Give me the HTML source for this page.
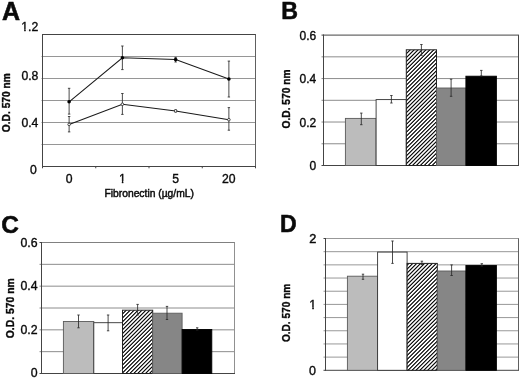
<!DOCTYPE html>
<html><head><meta charset="utf-8"><title>Figure</title>
<style>html,body{margin:0;padding:0;background:#fff;}svg{display:block;}text{font-family:'Liberation Sans', sans-serif;fill:#0a0a0a;stroke:#0a0a0a;stroke-width:0.36px;}</style>
</head><body>
<svg width="520" height="378" viewBox="0 0 520 378">
<defs><linearGradient id="hg" gradientUnits="userSpaceOnUse" x1="2.08" y1="2.08" x2="4.045" y2="4.045" spreadMethod="repeat"><stop offset="0.0" stop-color="#0c0c0c"/><stop offset="0.0417" stop-color="#0f0f0f"/><stop offset="0.0833" stop-color="#1f1f1f"/><stop offset="0.125" stop-color="#393939"/><stop offset="0.1667" stop-color="#5a5a5a"/><stop offset="0.2083" stop-color="#818181"/><stop offset="0.25" stop-color="#aaaaaa"/><stop offset="0.2917" stop-color="#d3d3d3"/><stop offset="0.3333" stop-color="#fafafa"/><stop offset="0.375" stop-color="#ffffff"/><stop offset="0.4167" stop-color="#ffffff"/><stop offset="0.4583" stop-color="#ffffff"/><stop offset="0.5" stop-color="#ffffff"/><stop offset="0.5417" stop-color="#ffffff"/><stop offset="0.5833" stop-color="#ffffff"/><stop offset="0.625" stop-color="#ffffff"/><stop offset="0.6667" stop-color="#fafafa"/><stop offset="0.7083" stop-color="#d3d3d3"/><stop offset="0.75" stop-color="#aaaaaa"/><stop offset="0.7917" stop-color="#818181"/><stop offset="0.8333" stop-color="#5a5a5a"/><stop offset="0.875" stop-color="#393939"/><stop offset="0.9167" stop-color="#1f1f1f"/><stop offset="0.9583" stop-color="#0f0f0f"/><stop offset="1.0" stop-color="#0c0c0c"/></linearGradient></defs>
<rect width="520" height="378" fill="#fff"/>
<line x1="41.50" y1="56.50" x2="255.50" y2="56.50" stroke="#969696" stroke-width="1"/>
<line x1="41.50" y1="78.50" x2="255.50" y2="78.50" stroke="#969696" stroke-width="1"/>
<line x1="41.50" y1="100.50" x2="255.50" y2="100.50" stroke="#969696" stroke-width="1"/>
<line x1="41.50" y1="122.50" x2="255.50" y2="122.50" stroke="#969696" stroke-width="1"/>
<line x1="41.50" y1="144.50" x2="255.50" y2="144.50" stroke="#969696" stroke-width="1"/>
<line x1="42.00" y1="34.50" x2="256.00" y2="34.50" stroke="#444" stroke-width="1"/>
<line x1="255.50" y1="34.50" x2="255.50" y2="166.50" stroke="#606060" stroke-width="1"/>
<line x1="42.50" y1="34.00" x2="42.50" y2="167.00" stroke="#444" stroke-width="1"/>
<line x1="42.00" y1="166.50" x2="256.00" y2="166.50" stroke="#444" stroke-width="1"/>
<line x1="42.50" y1="166.50" x2="42.50" y2="168.30" stroke="#444" stroke-width="1"/>
<line x1="95.75" y1="166.50" x2="95.75" y2="168.30" stroke="#444" stroke-width="1"/>
<line x1="149.00" y1="166.50" x2="149.00" y2="168.30" stroke="#444" stroke-width="1"/>
<line x1="202.25" y1="166.50" x2="202.25" y2="168.30" stroke="#444" stroke-width="1"/>
<line x1="255.50" y1="166.50" x2="255.50" y2="168.30" stroke="#444" stroke-width="1"/>
<polyline fill="none" stroke="#1a1a1a" stroke-width="1.05" points="69.12,101.80 122.38,57.80 175.62,59.60 228.88,79.00"/>
<polyline fill="none" stroke="#1a1a1a" stroke-width="1.05" points="69.12,124.40 122.38,104.30 175.62,110.90 228.88,119.70"/>
<line x1="69.12" y1="88.30" x2="69.12" y2="114.10" stroke="#2a2a2a" stroke-width="0.85"/>
<line x1="67.92" y1="88.30" x2="70.33" y2="88.30" stroke="#2a2a2a" stroke-width="0.85"/>
<line x1="67.92" y1="114.10" x2="70.33" y2="114.10" stroke="#2a2a2a" stroke-width="0.85"/>
<line x1="122.38" y1="46.00" x2="122.38" y2="69.60" stroke="#2a2a2a" stroke-width="0.85"/>
<line x1="121.17" y1="46.00" x2="123.58" y2="46.00" stroke="#2a2a2a" stroke-width="0.85"/>
<line x1="121.17" y1="69.60" x2="123.58" y2="69.60" stroke="#2a2a2a" stroke-width="0.85"/>
<line x1="175.62" y1="57.40" x2="175.62" y2="62.00" stroke="#2a2a2a" stroke-width="0.85"/>
<line x1="174.43" y1="57.40" x2="176.82" y2="57.40" stroke="#2a2a2a" stroke-width="0.85"/>
<line x1="174.43" y1="62.00" x2="176.82" y2="62.00" stroke="#2a2a2a" stroke-width="0.85"/>
<line x1="228.88" y1="61.10" x2="228.88" y2="97.00" stroke="#2a2a2a" stroke-width="0.85"/>
<line x1="227.68" y1="61.10" x2="230.07" y2="61.10" stroke="#2a2a2a" stroke-width="0.85"/>
<line x1="227.68" y1="97.00" x2="230.07" y2="97.00" stroke="#2a2a2a" stroke-width="0.85"/>
<line x1="69.12" y1="116.50" x2="69.12" y2="131.90" stroke="#2a2a2a" stroke-width="0.85"/>
<line x1="67.92" y1="116.50" x2="70.33" y2="116.50" stroke="#2a2a2a" stroke-width="0.85"/>
<line x1="67.92" y1="131.90" x2="70.33" y2="131.90" stroke="#2a2a2a" stroke-width="0.85"/>
<line x1="122.38" y1="93.50" x2="122.38" y2="114.40" stroke="#2a2a2a" stroke-width="0.85"/>
<line x1="121.17" y1="93.50" x2="123.58" y2="93.50" stroke="#2a2a2a" stroke-width="0.85"/>
<line x1="121.17" y1="114.40" x2="123.58" y2="114.40" stroke="#2a2a2a" stroke-width="0.85"/>
<line x1="175.62" y1="109.80" x2="175.62" y2="112.00" stroke="#2a2a2a" stroke-width="0.85"/>
<line x1="174.43" y1="109.80" x2="176.82" y2="109.80" stroke="#2a2a2a" stroke-width="0.85"/>
<line x1="174.43" y1="112.00" x2="176.82" y2="112.00" stroke="#2a2a2a" stroke-width="0.85"/>
<line x1="228.88" y1="107.60" x2="228.88" y2="130.20" stroke="#2a2a2a" stroke-width="0.85"/>
<line x1="227.68" y1="107.60" x2="230.07" y2="107.60" stroke="#2a2a2a" stroke-width="0.85"/>
<line x1="227.68" y1="130.20" x2="230.07" y2="130.20" stroke="#2a2a2a" stroke-width="0.85"/>
<circle cx="69.12" cy="101.80" r="1.8" fill="#000"/>
<circle cx="122.38" cy="57.80" r="1.8" fill="#000"/>
<circle cx="175.62" cy="59.60" r="1.8" fill="#000"/>
<circle cx="228.88" cy="79.00" r="1.8" fill="#000"/>
<circle cx="69.12" cy="124.40" r="1.3" fill="#fff" stroke="#222" stroke-width="0.8"/>
<circle cx="122.38" cy="104.30" r="1.3" fill="#fff" stroke="#222" stroke-width="0.8"/>
<circle cx="175.62" cy="110.90" r="1.3" fill="#fff" stroke="#222" stroke-width="0.8"/>
<circle cx="228.88" cy="119.70" r="1.3" fill="#fff" stroke="#222" stroke-width="0.8"/>
<text x="2.00" y="20.00" font-size="25" text-anchor="start" font-weight="bold" style="stroke-width:0.55px">A</text>
<clipPath id="c1"><path d="M20.34,19.10H39.30V29.00H20.34ZM24.21,28.50H25.67V32.30H24.21ZM27.93,28.50H39.30V32.30H27.93Z"/></clipPath>
<text x="38.30" y="31.30" font-size="12.2" text-anchor="end" font-weight="normal" clip-path="url(#c1)">1.2</text>
<text x="38.40" y="79.60" font-size="12.2" text-anchor="end" font-weight="normal" >0.8</text>
<text x="38.40" y="127.00" font-size="12.2" text-anchor="end" font-weight="normal" >0.4</text>
<text x="36.70" y="174.40" font-size="12.2" text-anchor="end" font-weight="normal" >0</text>
<text x="69.12" y="182.80" font-size="12.2" text-anchor="middle" font-weight="normal" >0</text>
<clipPath id="c2"><path d="M117.98,170.60H126.77V181.00H117.98ZM121.85,180.50H123.31V183.80H121.85Z"/></clipPath>
<text x="122.38" y="182.80" font-size="12.2" text-anchor="middle" font-weight="normal" clip-path="url(#c2)">1</text>
<text x="175.62" y="182.80" font-size="12.2" text-anchor="middle" font-weight="normal" >5</text>
<text x="228.88" y="182.80" font-size="12.2" text-anchor="middle" font-weight="normal" >20</text>
<text x="149.20" y="197.20" font-size="10.3" text-anchor="middle" font-weight="normal" style="stroke-width:0.45px">Fibronectin (µg/mL)</text>
<text transform="translate(9.5,102.7) rotate(-90)" font-size="10.2" font-weight="bold" text-anchor="middle">O.D. 570 nm</text>
<line x1="321.50" y1="56.83" x2="518.50" y2="56.83" stroke="#8c8c8c" stroke-width="1"/>
<line x1="321.50" y1="78.57" x2="518.50" y2="78.57" stroke="#8c8c8c" stroke-width="1"/>
<line x1="321.50" y1="100.30" x2="518.50" y2="100.30" stroke="#8c8c8c" stroke-width="1"/>
<line x1="321.50" y1="122.03" x2="518.50" y2="122.03" stroke="#8c8c8c" stroke-width="1"/>
<line x1="321.50" y1="143.77" x2="518.50" y2="143.77" stroke="#8c8c8c" stroke-width="1"/>
<line x1="321.50" y1="35.10" x2="323.50" y2="35.10" stroke="#444" stroke-width="1"/>
<line x1="321.50" y1="165.50" x2="323.50" y2="165.50" stroke="#444" stroke-width="1"/>
<line x1="323.00" y1="35.10" x2="519.00" y2="35.10" stroke="#444" stroke-width="1"/>
<line x1="518.50" y1="35.10" x2="518.50" y2="165.50" stroke="#444" stroke-width="1"/>
<line x1="323.50" y1="34.60" x2="323.50" y2="166.00" stroke="#444" stroke-width="1"/>
<line x1="323.00" y1="165.50" x2="519.00" y2="165.50" stroke="#444" stroke-width="1"/>
<rect x="345.40" y="118.40" width="30.70" height="47.10" fill="#bcbcbc" stroke="#5a5a5a" stroke-width="0.9"/>
<rect x="376.10" y="99.60" width="30.20" height="65.90" fill="#ffffff" stroke="#333" stroke-width="0.9"/>
<rect x="406.30" y="49.80" width="30.20" height="115.70" fill="url(#hg)"/>
<rect x="406.30" y="49.80" width="30.20" height="115.70" fill="none" stroke="#222" stroke-width="1"/>
<rect x="436.50" y="88.00" width="29.40" height="77.50" fill="#868686" stroke="#5c5c5c" stroke-width="0.9"/>
<rect x="465.90" y="76.20" width="30.50" height="89.30" fill="#000000" stroke="#000" stroke-width="0.9"/>
<line x1="361.30" y1="113.10" x2="361.30" y2="124.70" stroke="#2a2a2a" stroke-width="0.85"/>
<line x1="360.10" y1="113.10" x2="362.50" y2="113.10" stroke="#2a2a2a" stroke-width="0.85"/>
<line x1="360.10" y1="124.70" x2="362.50" y2="124.70" stroke="#2a2a2a" stroke-width="0.85"/>
<line x1="391.40" y1="95.50" x2="391.40" y2="103.00" stroke="#2a2a2a" stroke-width="0.85"/>
<line x1="390.20" y1="95.50" x2="392.60" y2="95.50" stroke="#2a2a2a" stroke-width="0.85"/>
<line x1="390.20" y1="103.00" x2="392.60" y2="103.00" stroke="#2a2a2a" stroke-width="0.85"/>
<line x1="421.40" y1="44.50" x2="421.40" y2="55.30" stroke="#2a2a2a" stroke-width="0.85"/>
<line x1="420.20" y1="44.50" x2="422.60" y2="44.50" stroke="#2a2a2a" stroke-width="0.85"/>
<line x1="420.20" y1="55.30" x2="422.60" y2="55.30" stroke="#2a2a2a" stroke-width="0.85"/>
<line x1="451.10" y1="79.20" x2="451.10" y2="96.30" stroke="#2a2a2a" stroke-width="0.85"/>
<line x1="449.90" y1="79.20" x2="452.30" y2="79.20" stroke="#2a2a2a" stroke-width="0.85"/>
<line x1="449.90" y1="96.30" x2="452.30" y2="96.30" stroke="#2a2a2a" stroke-width="0.85"/>
<line x1="481.30" y1="70.40" x2="481.30" y2="76.00" stroke="#2a2a2a" stroke-width="0.85"/>
<line x1="480.10" y1="70.40" x2="482.50" y2="70.40" stroke="#2a2a2a" stroke-width="0.85"/>
<line x1="480.10" y1="76.00" x2="482.50" y2="76.00" stroke="#2a2a2a" stroke-width="0.85"/>
<text x="281.30" y="19.40" font-size="23.2" text-anchor="start" font-weight="bold" style="stroke-width:0.55px">B</text>
<text x="316.30" y="39.60" font-size="12" text-anchor="end" font-weight="normal" >0.6</text>
<text x="316.30" y="83.40" font-size="12" text-anchor="end" font-weight="normal" >0.4</text>
<text x="316.30" y="126.90" font-size="12" text-anchor="end" font-weight="normal" >0.2</text>
<text x="316.30" y="170.10" font-size="12" text-anchor="end" font-weight="normal" >0</text>
<text transform="translate(290.3,99.0) rotate(-90)" font-size="10.2" font-weight="bold" text-anchor="middle">O.D. 570 nm</text>
<line x1="39.50" y1="264.33" x2="234.50" y2="264.33" stroke="#8c8c8c" stroke-width="1"/>
<line x1="39.50" y1="286.17" x2="234.50" y2="286.17" stroke="#8c8c8c" stroke-width="1"/>
<line x1="39.50" y1="308.00" x2="234.50" y2="308.00" stroke="#8c8c8c" stroke-width="1"/>
<line x1="39.50" y1="329.83" x2="234.50" y2="329.83" stroke="#8c8c8c" stroke-width="1"/>
<line x1="39.50" y1="351.67" x2="234.50" y2="351.67" stroke="#8c8c8c" stroke-width="1"/>
<line x1="39.50" y1="242.50" x2="41.50" y2="242.50" stroke="#444" stroke-width="1"/>
<line x1="39.50" y1="373.50" x2="41.50" y2="373.50" stroke="#444" stroke-width="1"/>
<line x1="41.00" y1="242.50" x2="235.00" y2="242.50" stroke="#808080" stroke-width="1"/>
<line x1="234.50" y1="242.50" x2="234.50" y2="373.50" stroke="#909090" stroke-width="1"/>
<line x1="41.50" y1="242.00" x2="41.50" y2="374.00" stroke="#444" stroke-width="1"/>
<line x1="41.00" y1="373.50" x2="235.00" y2="373.50" stroke="#444" stroke-width="1"/>
<rect x="63.40" y="321.50" width="30.40" height="52.00" fill="#bcbcbc" stroke="#5a5a5a" stroke-width="0.9"/>
<rect x="93.80" y="322.70" width="28.70" height="50.80" fill="#ffffff" stroke="#333" stroke-width="0.9"/>
<rect x="122.50" y="310.20" width="30.20" height="63.30" fill="url(#hg)"/>
<rect x="122.50" y="310.20" width="30.20" height="63.30" fill="none" stroke="#222" stroke-width="1"/>
<rect x="152.70" y="313.20" width="29.40" height="60.30" fill="#868686" stroke="#5c5c5c" stroke-width="0.9"/>
<rect x="182.10" y="329.50" width="29.70" height="44.00" fill="#000000" stroke="#000" stroke-width="0.9"/>
<line x1="78.50" y1="315.00" x2="78.50" y2="327.80" stroke="#2a2a2a" stroke-width="0.85"/>
<line x1="77.30" y1="315.00" x2="79.70" y2="315.00" stroke="#2a2a2a" stroke-width="0.85"/>
<line x1="77.30" y1="327.80" x2="79.70" y2="327.80" stroke="#2a2a2a" stroke-width="0.85"/>
<line x1="108.10" y1="315.00" x2="108.10" y2="330.80" stroke="#2a2a2a" stroke-width="0.85"/>
<line x1="106.90" y1="315.00" x2="109.30" y2="315.00" stroke="#2a2a2a" stroke-width="0.85"/>
<line x1="106.90" y1="330.80" x2="109.30" y2="330.80" stroke="#2a2a2a" stroke-width="0.85"/>
<line x1="137.60" y1="304.40" x2="137.60" y2="315.00" stroke="#2a2a2a" stroke-width="0.85"/>
<line x1="136.40" y1="304.40" x2="138.80" y2="304.40" stroke="#2a2a2a" stroke-width="0.85"/>
<line x1="136.40" y1="315.00" x2="138.80" y2="315.00" stroke="#2a2a2a" stroke-width="0.85"/>
<line x1="167.00" y1="306.40" x2="167.00" y2="319.50" stroke="#2a2a2a" stroke-width="0.85"/>
<line x1="165.80" y1="306.40" x2="168.20" y2="306.40" stroke="#2a2a2a" stroke-width="0.85"/>
<line x1="165.80" y1="319.50" x2="168.20" y2="319.50" stroke="#2a2a2a" stroke-width="0.85"/>
<line x1="197.20" y1="327.80" x2="197.20" y2="330.00" stroke="#2a2a2a" stroke-width="0.85"/>
<line x1="196.00" y1="327.80" x2="198.40" y2="327.80" stroke="#2a2a2a" stroke-width="0.85"/>
<line x1="196.00" y1="330.00" x2="198.40" y2="330.00" stroke="#2a2a2a" stroke-width="0.85"/>
<text x="1.20" y="233.40" font-size="24.4" text-anchor="start" font-weight="bold" style="stroke-width:0.55px">C</text>
<text x="37.50" y="247.00" font-size="12.3" text-anchor="end" font-weight="normal" >0.6</text>
<text x="37.50" y="289.80" font-size="12.3" text-anchor="end" font-weight="normal" >0.4</text>
<text x="37.50" y="334.40" font-size="12.3" text-anchor="end" font-weight="normal" >0.2</text>
<text x="37.50" y="377.30" font-size="12.3" text-anchor="end" font-weight="normal" >0</text>
<text transform="translate(13.6,308.3) rotate(-90)" font-size="10.4" font-weight="bold" text-anchor="middle">O.D. 570 nm</text>
<line x1="323.50" y1="251.68" x2="518.50" y2="251.68" stroke="#989898" stroke-width="1"/>
<line x1="323.50" y1="264.86" x2="518.50" y2="264.86" stroke="#989898" stroke-width="1"/>
<line x1="323.50" y1="278.04" x2="518.50" y2="278.04" stroke="#989898" stroke-width="1"/>
<line x1="323.50" y1="291.22" x2="518.50" y2="291.22" stroke="#989898" stroke-width="1"/>
<line x1="323.50" y1="304.40" x2="518.50" y2="304.40" stroke="#989898" stroke-width="1"/>
<line x1="323.50" y1="317.58" x2="518.50" y2="317.58" stroke="#989898" stroke-width="1"/>
<line x1="323.50" y1="330.76" x2="518.50" y2="330.76" stroke="#989898" stroke-width="1"/>
<line x1="323.50" y1="343.94" x2="518.50" y2="343.94" stroke="#989898" stroke-width="1"/>
<line x1="323.50" y1="357.12" x2="518.50" y2="357.12" stroke="#989898" stroke-width="1"/>
<line x1="323.50" y1="238.50" x2="325.50" y2="238.50" stroke="#444" stroke-width="1"/>
<line x1="323.50" y1="370.30" x2="325.50" y2="370.30" stroke="#444" stroke-width="1"/>
<line x1="325.00" y1="238.50" x2="519.00" y2="238.50" stroke="#989898" stroke-width="1"/>
<line x1="518.50" y1="238.50" x2="518.50" y2="370.30" stroke="#606060" stroke-width="1"/>
<line x1="325.50" y1="238.00" x2="325.50" y2="370.80" stroke="#444" stroke-width="1"/>
<line x1="325.00" y1="370.30" x2="519.00" y2="370.30" stroke="#444" stroke-width="1"/>
<rect x="347.40" y="276.20" width="30.20" height="94.10" fill="#bcbcbc" stroke="#5a5a5a" stroke-width="0.9"/>
<rect x="377.60" y="252.10" width="29.50" height="118.20" fill="#ffffff" stroke="#333" stroke-width="0.9"/>
<rect x="407.10" y="263.40" width="30.20" height="106.90" fill="url(#hg)"/>
<rect x="407.10" y="263.40" width="30.20" height="106.90" fill="none" stroke="#222" stroke-width="1"/>
<rect x="437.30" y="271.00" width="28.60" height="99.30" fill="#868686" stroke="#5c5c5c" stroke-width="0.9"/>
<rect x="465.90" y="265.50" width="30.50" height="104.80" fill="#000000" stroke="#000" stroke-width="0.9"/>
<line x1="363.00" y1="274.20" x2="363.00" y2="279.30" stroke="#2a2a2a" stroke-width="0.85"/>
<line x1="361.80" y1="274.20" x2="364.20" y2="274.20" stroke="#2a2a2a" stroke-width="0.85"/>
<line x1="361.80" y1="279.30" x2="364.20" y2="279.30" stroke="#2a2a2a" stroke-width="0.85"/>
<line x1="392.50" y1="241.00" x2="392.50" y2="263.40" stroke="#2a2a2a" stroke-width="0.85"/>
<line x1="391.30" y1="241.00" x2="393.70" y2="241.00" stroke="#2a2a2a" stroke-width="0.85"/>
<line x1="391.30" y1="263.40" x2="393.70" y2="263.40" stroke="#2a2a2a" stroke-width="0.85"/>
<line x1="421.90" y1="261.20" x2="421.90" y2="264.50" stroke="#2a2a2a" stroke-width="0.85"/>
<line x1="420.70" y1="261.20" x2="423.10" y2="261.20" stroke="#2a2a2a" stroke-width="0.85"/>
<line x1="420.70" y1="264.50" x2="423.10" y2="264.50" stroke="#2a2a2a" stroke-width="0.85"/>
<line x1="451.60" y1="264.90" x2="451.60" y2="275.50" stroke="#2a2a2a" stroke-width="0.85"/>
<line x1="450.40" y1="264.90" x2="452.80" y2="264.90" stroke="#2a2a2a" stroke-width="0.85"/>
<line x1="450.40" y1="275.50" x2="452.80" y2="275.50" stroke="#2a2a2a" stroke-width="0.85"/>
<line x1="481.80" y1="263.70" x2="481.80" y2="266.00" stroke="#2a2a2a" stroke-width="0.85"/>
<line x1="480.60" y1="263.70" x2="483.00" y2="263.70" stroke="#2a2a2a" stroke-width="0.85"/>
<line x1="480.60" y1="266.00" x2="483.00" y2="266.00" stroke="#2a2a2a" stroke-width="0.85"/>
<text x="280.00" y="232.30" font-size="23.1" text-anchor="start" font-weight="bold" style="stroke-width:0.55px">D</text>
<text x="316.30" y="243.00" font-size="12.7" text-anchor="end" font-weight="normal" style="stroke-width:0.45px">2</text>
<clipPath id="c3"><path d="M308.35,296.70H317.30V307.00H308.35ZM312.29,306.50H313.79V310.20H312.29Z"/></clipPath>
<text x="316.30" y="309.20" font-size="12.5" text-anchor="end" font-weight="normal" clip-path="url(#c3)">1</text>
<text x="316.00" y="375.40" font-size="12.5" text-anchor="end" font-weight="normal" >0</text>
<text transform="translate(289.5,312.9) rotate(-90)" font-size="10.1" font-weight="bold" text-anchor="middle">O.D. 570 nm</text>
</svg></body></html>
